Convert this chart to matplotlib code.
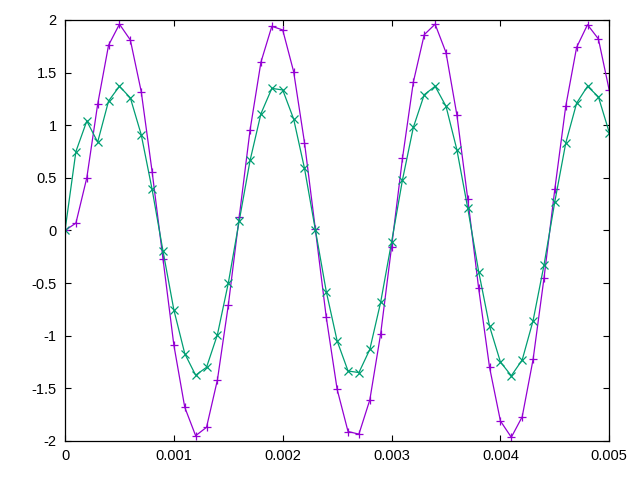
import matplotlib
matplotlib.use("Agg")
import matplotlib.pyplot as plt
import numpy as np

plt.rcParams['font.family'] = ['Liberation Sans', 'DejaVu Sans']

# sample times, 0.0001 step
t = np.arange(51) * 0.0001

# purple series (+)
sig1 = [0.0, 0.07, 0.50, 1.20, 1.76, 1.96, 1.81, 1.32, 0.56, -0.27,
        -1.09, -1.68, -1.95, -1.87, -1.42, -0.71, 0.125, 0.955, 1.60, 1.94,
        1.905, 1.51, 0.835, 0.01, -0.825, -1.51, -1.91, -1.935, -1.61, -0.98,
        -0.155, 0.685, 1.41, 1.86, 1.96, 1.69, 1.097, 0.30, -0.55, -1.30,
        -1.81, -1.965, -1.77, -1.225, -0.455, 0.395, 1.18, 1.74, 1.955, 1.82,
        1.33]

# green series (x)
sig2 = [0.0, 0.75, 1.04, 0.84, 1.23, 1.37, 1.26, 0.91, 0.39, -0.195,
        -0.755, -1.17, -1.375, -1.30, -0.99, -0.50, 0.09, 0.665, 1.11, 1.35,
        1.335, 1.06, 0.59, 0.005, -0.58, -1.05, -1.335, -1.35, -1.13, -0.68,
        -0.11, 0.48, 0.98, 1.29, 1.37, 1.18, 0.767, 0.21, -0.39, -0.91,
        -1.25, -1.38, -1.23, -0.857, -0.33, 0.275, 0.83, 1.21, 1.37, 1.27,
        0.93]

xticks = [0, 0.001, 0.002, 0.003, 0.004, 0.005]
xlabels = ['0', '0.001', '0.002', '0.003', '0.004', '0.005']
yticks = [-2, -1.5, -1, -0.5, 0, 0.5, 1, 1.5, 2]
ylabels = ['-2', '-1.5', '-1', '-0.5', '0', '0.5', '1', '1.5', '2']

fig = plt.figure(figsize=(6.4, 4.8), dpi=100)
ax = fig.add_axes([0.1016, 0.0813, 0.8504, 0.8771])

ax.plot(t, sig1, color='#9400D3', lw=0.9, marker='+', ms=5.2, mew=0.9)
ax.plot(t, sig2, color='#009E73', lw=0.9, marker='x', ms=5.6, mew=0.9)

ax.set_xlim(0, 0.005)
ax.set_ylim(-2, 2)
ax.set_xticks(xticks)
ax.set_xticklabels(xlabels)
ax.set_yticks(yticks)
ax.set_yticklabels(ylabels)
ax.tick_params(direction='in', length=4.5, width=0.8, top=True, right=True,
               labelsize=10.5, pad=6)
for s in ax.spines.values():
    s.set_linewidth(0.9)

fig.savefig('out.png', dpi=100)
